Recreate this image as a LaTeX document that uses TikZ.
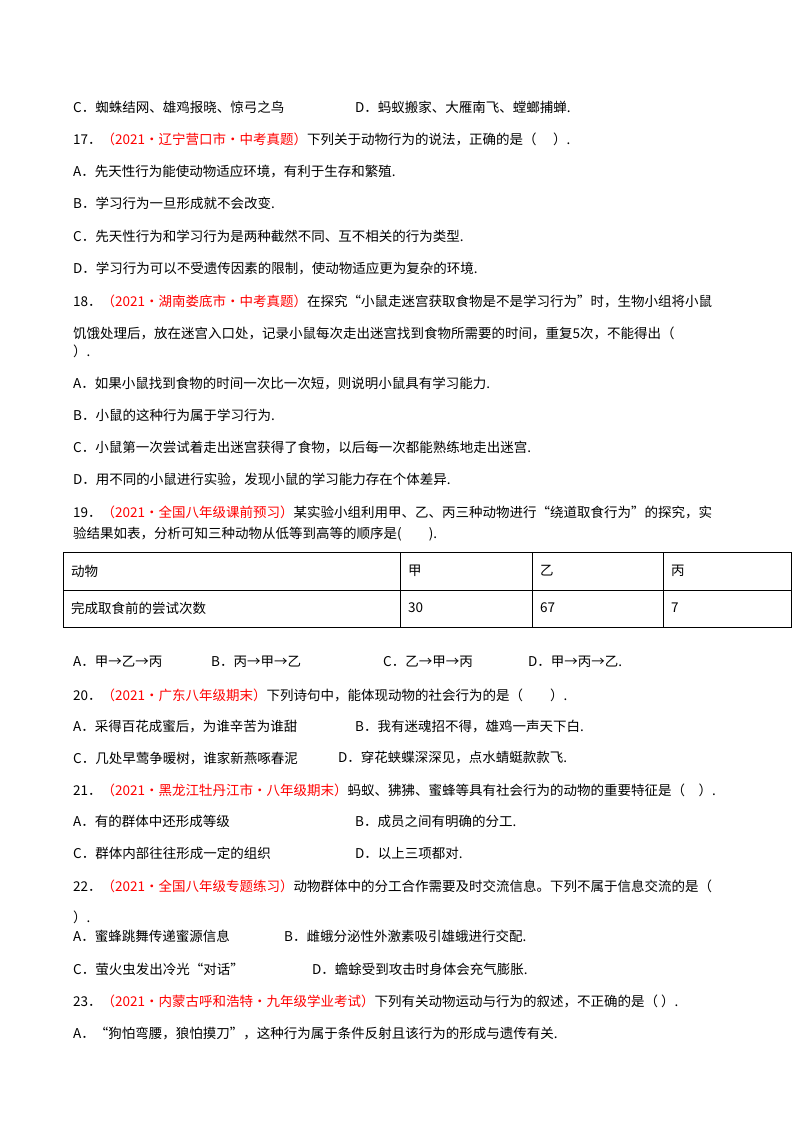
\documentclass[tikz,border=0pt]{standalone}
\usepackage{fontspec}
\setmainfont{Noto Sans CJK SC}
\usepackage{xcolor}
\tikzset{
  ln/.style={anchor=west,inner sep=0pt,font=\fontsize{13.5}{16}\selectfont},
  src/.style={text=red}
}
\newcommand{\rsrc}[1]{\textcolor{red}{（#1）}}
\begin{document}
\begin{tikzpicture}[x=1pt,y=-1pt]
\useasboundingbox[fill=white] (0,0) rectangle (800,1132);
% question 16 end
\node[ln] (q16c) at (73,107) {C．蜘蛛结网、雄鸡报晓、惊弓之鸟};
\node[ln] (q16d) at (355,107) {D．蚂蚁搬家、大雁南飞、螳螂捕蝉.};
% question 17
\node[ln] (q17) at (73,139) {17．\rsrc{2021·辽宁营口市·中考真题}下列关于动物行为的说法，正确的是（\quad\ ）.};
\node[ln] (q17a) at (73,171) {A．先天性行为能使动物适应环境，有利于生存和繁殖.};
\node[ln] (q17b) at (73,203) {B．学习行为一旦形成就不会改变.};
\node[ln] (q17c) at (73,236) {C．先天性行为和学习行为是两种截然不同、互不相关的行为类型.};
\node[ln] (q17d) at (73,268) {D．学习行为可以不受遗传因素的限制，使动物适应更为复杂的环境.};
% question 18
\node[ln] (q18) at (73,301) {18．\rsrc{2021·湖南娄底市·中考真题}在探究“小鼠走迷宫获取食物是不是学习行为”时，生物小组将小鼠};
\node[ln] (q18x) at (73,333) {饥饿处理后，放在迷宫入口处，记录小鼠每次走出迷宫找到食物所需要的时间，重复5次，不能得出（};
\node[ln] (q18y) at (73,351) {）.};
\node[ln] (q18a) at (73,383) {A．如果小鼠找到食物的时间一次比一次短，则说明小鼠具有学习能力.};
\node[ln] (q18b) at (73,415) {B．小鼠的这种行为属于学习行为.};
\node[ln] (q18c) at (73,447) {C．小鼠第一次尝试着走出迷宫获得了食物，以后每一次都能熟练地走出迷宫.};
\node[ln] (q18d) at (73,479) {D．用不同的小鼠进行实验，发现小鼠的学习能力存在个体差异.};
% question 19
\node[ln] (q19) at (73,512) {19．\rsrc{2021·全国八年级课前预习}某实验小组利用甲、乙、丙三种动物进行“绕道取食行为”的探究，实};
\node[ln] (q19x) at (73,534) {验结果如表，分析可知三种动物从低等到高等的顺序是(\qquad).};
\draw (63,552) rectangle (791,627);
\draw (63,590) -- (791,590);
\foreach \cx in {400,532,663} \draw (\cx,552) -- (\cx,627);
\node[ln] (t11) at (71,571) {动物};
\node[ln] (t12) at (408,571) {甲};
\node[ln] (t13) at (540,571) {乙};
\node[ln] (t14) at (671,571) {丙};
\node[ln] (t21) at (71,608) {完成取食前的尝试次数};
\node[ln] (t22) at (408,608) {30};
\node[ln] (t23) at (540,608) {67};
\node[ln] (t24) at (671,608) {7};
\node[ln] (q19a) at (73,662) {A．甲→乙→丙};
\node[ln] (q19b) at (211,662) {B．丙→甲→乙};
\node[ln] (q19c) at (383,662) {C．乙→甲→丙};
\node[ln] (q19d) at (528,662) {D．甲→丙→乙.};
% question 20
\node[ln] (q20) at (73,695) {20．\rsrc{2021·广东八年级期末}下列诗句中，能体现动物的社会行为的是（\qquad）.};
\node[ln] (q20a) at (73,727) {A．采得百花成蜜后，为谁辛苦为谁甜};
\node[ln] (q20b) at (355,727) {B．我有迷魂招不得，雄鸡一声天下白.};
\node[ln] (q20c) at (73,758) {C．几处早莺争暖树，谁家新燕啄春泥};
\node[ln] (q20d) at (338,758) {D．穿花蛱蝶深深见，点水蜻蜓款款飞.};
% question 21
\node[ln] (q21) at (73,790) {21．\rsrc{2021·黑龙江牡丹江市·八年级期末}蚂蚁、狒狒、蜜蜂等具有社会行为的动物的重要特征是（\quad ）.};
\node[ln] (q21a) at (73,821) {A．有的群体中还形成等级};
\node[ln] (q21b) at (355,821) {B．成员之间有明确的分工.};
\node[ln] (q21c) at (73,853) {C．群体内部往往形成一定的组织};
\node[ln] (q21d) at (355,853) {D．以上三项都对.};
% question 22
\node[ln] (q22) at (73,886) {22．\rsrc{2021·全国八年级专题练习}动物群体中的分工合作需要及时交流信息。下列不属于信息交流的是（};
\node[ln] (q22x) at (73,917) {）.};
\node[ln] (q22a) at (73,936) {A．蜜蜂跳舞传递蜜源信息};
\node[ln] (q22b) at (284,936) {B．雌蛾分泌性外激素吸引雄蛾进行交配.};
\node[ln] (q22c) at (73,969) {C．萤火虫发出冷光“对话”};
\node[ln] (q22d) at (312,969) {D．蟾蜍受到攻击时身体会充气膨胀.};
% question 23
\node[ln] (q23) at (73,1001) {23．\rsrc{2021·内蒙古呼和浩特·九年级学业考试}下列有关动物运动与行为的叙述，不正确的是（\ ）.};
\node[ln] (q23a) at (73,1033) {A．“狗怕弯腰，狼怕摸刀”，这种行为属于条件反射且该行为的形成与遗传有关.};
\end{tikzpicture}
\end{document}
